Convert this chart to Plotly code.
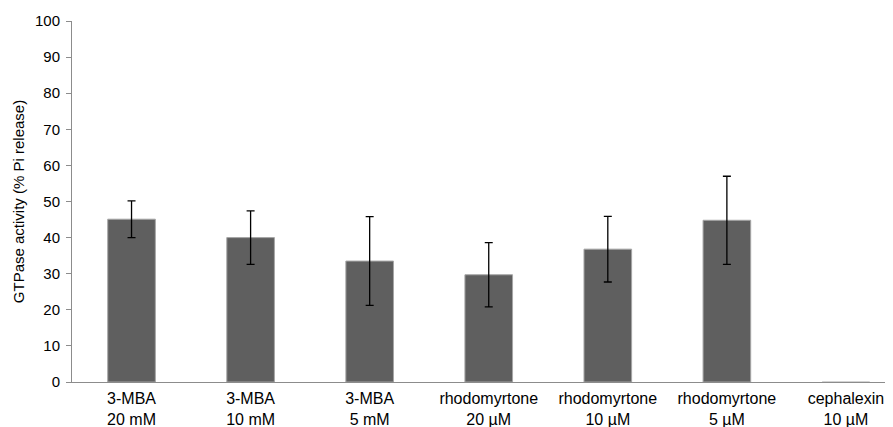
import plotly.graph_objects as go

categories = ["3-MBA<br>20 mM", "3-MBA<br>10 mM", "3-MBA<br>5 mM",
              "rhodomyrtone<br>20 µM", "rhodomyrtone<br>10 µM",
              "rhodomyrtone<br>5 µM", "cephalexin<br>10 µM"]
values = [45.1, 40.0, 33.5, 29.7, 36.8, 44.8, -0.4]
errors = [5.1, 7.4, 12.3, 8.9, 9.1, 12.2, 0.0]
y_ticks = list(range(0, 101, 10))

# The page body has an 8px margin, so the figure is shrunk and margins offset to compensate.
fig = go.Figure(go.Bar(
    x=categories, y=values,
    marker=dict(color="#5f5f5f", line=dict(color="#a6a6a6", width=1)),
    error_y=dict(type="data", array=errors, visible=True,
                 color="#000000", thickness=1.3, width=4),
    width=0.4,
    cliponaxis=False,
))

fig.update_layout(
    width=885, height=419,
    margin=dict(l=64, r=3, t=13, b=45, autoexpand=False),
    paper_bgcolor="white", plot_bgcolor="white",
    font=dict(family="Liberation Sans, Arial, sans-serif", size=15, color="#000000"),
    showlegend=False,
)
fig.update_xaxes(
    range=[-0.5, 6.37], showline=True, linecolor="#8c8c8c", linewidth=1,
    ticks="", ticklen=0, showgrid=False, zeroline=False, tickfont=dict(size=16),
    automargin=False, ticklabelstandoff=2,
)
fig.update_yaxes(
    range=[0, 100], tickvals=y_ticks, showline=True, linecolor="#8c8c8c", linewidth=1,
    ticks="outside", ticklen=5, tickcolor="#8c8c8c", showgrid=False, zeroline=False,
    title=dict(text="GTPase activity (% Pi release)", font=dict(size=15), standoff=6),
    tickfont=dict(size=15), automargin=True, ticklabelstandoff=3,
)

fig.write_html("out.html")
